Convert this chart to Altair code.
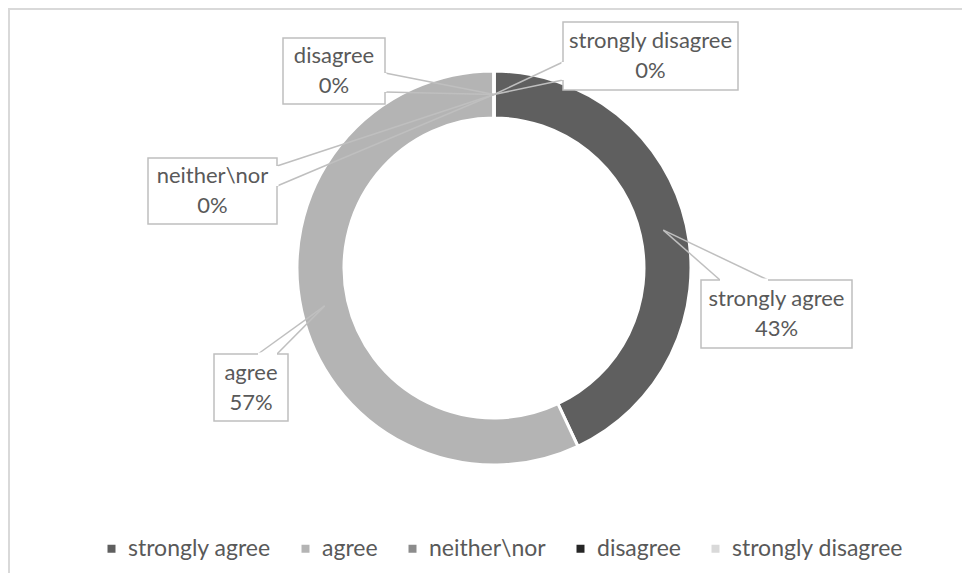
import math
import altair as alt
import pandas as pd

# ---- data ----
categories = ["strongly agree", "agree", "neither\\nor", "disagree", "strongly disagree"]
values = [43, 57, 0, 0, 0]          # percent
colors = ["#5f5f5f", "#b4b4b4", "#8c8c8c", "#262626", "#d9d9d9"]

# ---- layout (view pixels) ----
W, H = 954, 565
CX, CY = 486, 260
R_OUT, R_IN = 197, 150
R_MID = (R_OUT + R_IN) / 2
TXT = "#595959"
EDGE = "#bfbfbf"
FONT = "Lato"

# callout box: x0, x1, y0, y1, notch point a, notch point b
box_layout = {
    "strongly agree":    (693, 844, 272, 340, (712, 272), (760, 272)),
    "agree":             (206, 280, 346, 413, (250, 346), (269, 346)),
    "neither\\nor":      (140, 269, 150, 216, (269, 158), (269, 178)),
    "disagree":          (275, 377, 30, 96, (377, 65), (377, 84)),
    "strongly disagree": (555, 730, 14, 82, (555, 54), (555, 72)),
}

slices = pd.DataFrame({"cat": categories, "value": values, "idx": list(range(len(categories)))})

total = sum(values)
cum = 0.0
box_rows, seg_rows, notch_rows, text_rows = [], [], [], []
for c, v in zip(categories, values):
    mid = (cum + v / 2) / total * 2 * math.pi
    cum += v
    tx = CX + R_MID * math.sin(mid)
    ty = CY - R_MID * math.cos(mid)
    x0, x1, y0, y1, a, b = box_layout[c]
    box_rows.append({"x0": x0, "x1": x1, "y0": y0, "y1": y1})
    for p in (a, b):
        seg_rows.append({"x": tx, "y": ty, "x2": p[0], "y2": p[1]})
    notch_rows.append({"x": a[0], "y": a[1], "x2": b[0], "y2": b[1]})
    cxm, cym = (x0 + x1) / 2, (y0 + y1) / 2
    text_rows.append({"x": cxm, "ya": cym - 15, "yb": cym + 15,
                      "name": c, "pct": f"{round(v / total * 100)}%"})

boxes = pd.DataFrame(box_rows)
segs = pd.DataFrame(seg_rows)
notches = pd.DataFrame(notch_rows)
texts = pd.DataFrame(text_rows)

xs = alt.Scale(domain=[0, W], range=[0, W], nice=False, zero=False)
ys = alt.Scale(domain=[0, H], range=[0, H], nice=False, zero=False)

arc = alt.Chart(slices).mark_arc(
    innerRadius=R_IN, outerRadius=R_OUT, stroke="white", strokeWidth=3
).encode(
    theta=alt.Theta("value:Q", stack=True),
    color=alt.Color(
        "cat:N",
        scale=alt.Scale(domain=categories, range=colors),
        sort=categories,
        legend=alt.Legend(
            title=None, orient="none", legendX=92, legendY=529,
            direction="horizontal", symbolType="square", symbolSize=64,
            symbolStrokeWidth=0, labelFont=FONT, labelFontSize=23,
            labelColor=TXT, labelOffset=5, columnPadding=23, labelLimit=0,
        ),
    ),
    order=alt.Order("idx:Q"),
    x=alt.value(CX),
    y=alt.value(CY),
)

lines = alt.Chart(segs).mark_rule(color=EDGE, strokeWidth=1.5).encode(
    x=alt.X("x:Q", scale=xs, axis=None), y=alt.Y("y:Q", scale=ys, axis=None),
    x2="x2:Q", y2="y2:Q",
)

rects = alt.Chart(boxes).mark_rect(fill="white", stroke=EDGE, strokeWidth=1.5).encode(
    x=alt.X("x0:Q", scale=xs, axis=None), x2="x1:Q",
    y=alt.Y("y0:Q", scale=ys, axis=None), y2="y1:Q",
)

notch = alt.Chart(notches).mark_rule(color="white", strokeWidth=3).encode(
    x=alt.X("x:Q", scale=xs, axis=None), y=alt.Y("y:Q", scale=ys, axis=None),
    x2="x2:Q", y2="y2:Q",
)

name_txt = alt.Chart(texts).mark_text(font=FONT, fontSize=22, color=TXT, baseline="middle").encode(
    x=alt.X("x:Q", scale=xs, axis=None), y=alt.Y("ya:Q", scale=ys, axis=None), text="name:N",
)
pct_txt = alt.Chart(texts).mark_text(font=FONT, fontSize=22, color=TXT, baseline="middle").encode(
    x=alt.X("x:Q", scale=xs, axis=None), y=alt.Y("yb:Q", scale=ys, axis=None), text="pct:N",
)

border = pd.DataFrame({"x": [0, 1], "y": [1, 0], "x2": [W, 1], "y2": [1, H]})
frame = alt.Chart(border).mark_rule(color="#d9d9d9", strokeWidth=2).encode(
    x=alt.X("x:Q", scale=xs, axis=None), y=alt.Y("y:Q", scale=ys, axis=None),
    x2="x2:Q", y2="y2:Q",
)

chart = alt.layer(frame, arc, lines, rects, notch, name_txt, pct_txt).properties(
    width=W, height=H, padding=0, autosize=alt.AutoSizeParams(type="none"),
).configure_view(stroke=None)

chart.save("out.html", embed_options={"renderer": "svg", "actions": False})
